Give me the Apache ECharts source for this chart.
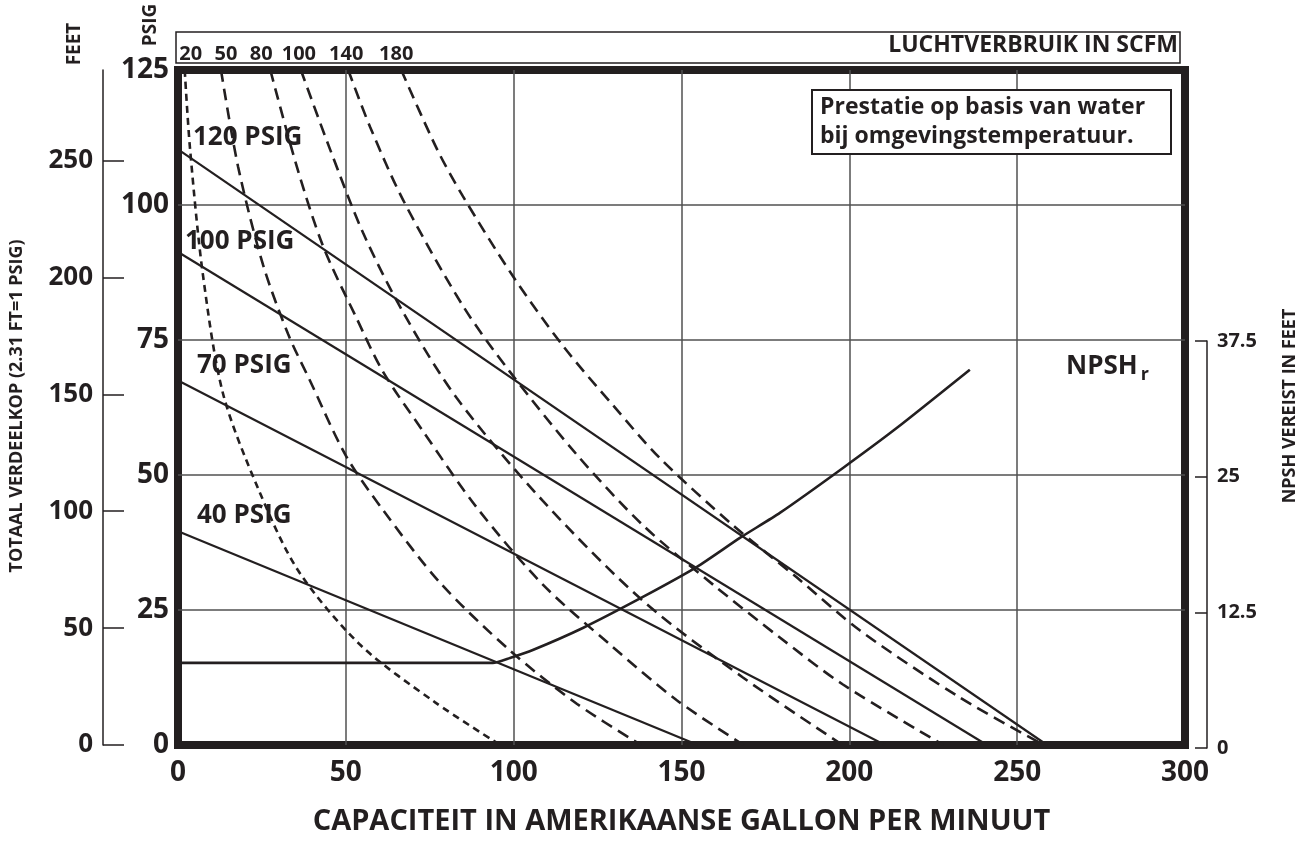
<!DOCTYPE html>
<html>
<head>
<meta charset="utf-8">
<title>Pompprestatie</title>
<script src="https://cdn.jsdelivr.net/npm/echarts@6/dist/echarts.min.js"></script>
<style>
html, body { margin: 0; padding: 0; background: #fff; }
#main { width: 1309px; height: 841px; }
</style>
</head>
<body>
<div id="main"></div>
<script>
// axis ranges: [min, max, interval]
var capAxis = [0, 300, 50];       // US gpm
var psigAxis = [0, 125, 25];      // discharge head, psig
var feetAxis = [0, 288.75, 50];   // same head in feet (2.31 ft = 1 psig)
var npshAxis = [0, 37.5, 12.5];   // NPSH required, feet

// discharge pressure lines [gpm, psig]
var psig120 = [[0, 110.3], [258.9, 0]];
var psig100 = [[0, 91.3], [241.0, 0]];
var psig70 = [[0, 67.5], [210.6, 0]];
var psig40 = [[0, 39.6], [154.9, 0]];

// air consumption curves, SCFM [gpm, psig]
var scfm20 = [[2.0, 125], [3.6, 110.3], [7.4, 87.2], [13.4, 65.1], [23.8, 47.6], [35.7, 32.4],
  [54.2, 18.6], [76.6, 7.9], [96.0, 0]];
var scfm50 = [[12.8, 125], [17.9, 107.1], [25.3, 89.0], [32.8, 76.1], [39.3, 67.5], [50.0, 53.6],
  [61.1, 43.5], [78.0, 30.1], [98.9, 17.5], [118.9, 7.6], [138.0, 0]];
var scfm80 = [[27.5, 125], [35.4, 107.1], [43.2, 92.4], [53.3, 78.9], [61.1, 69.1], [73.0, 58.1],
  [89.1, 43.9], [108.7, 29.7], [128.7, 18.6], [148.6, 8.3], [168.5, 0]];
var scfm100 = [[36.6, 125], [45.3, 110.3], [55.1, 94.9], [67.0, 80.2], [83.1, 64.2], [108.7, 45.2],
  [138.5, 26.7], [168.3, 12.5], [198.0, 0]];
var scfm140 = [[50.7, 125], [57.2, 114.5], [67.0, 101.0], [84.9, 81.3], [98.9, 69.1], [118.9, 53.7],
  [138.5, 40.7], [159.4, 29.7], [179.3, 19.9], [198.1, 11.2], [228.0, 0]];
var scfm180 = [[66.5, 125], [77.2, 110.3], [84.9, 101.6], [99.8, 86.8], [114.7, 73.9], [129.6, 62.9],
  [143.6, 53.1], [165.3, 40.7], [184.4, 31.0], [203.2, 21.2], [232.9, 8.8], [258.0, 0]];

// NPSH required [gpm, feet]
var npshr = [[0, 7.84], [93.8, 7.84], [98.9, 8.3], [105.7, 9.03], [120.6, 11.06], [138.5, 13.92],
  [154.6, 16.69], [167.4, 19.36], [179.3, 21.66], [198.1, 25.8], [214.2, 29.5], [235.9, 34.85]];

var ink = '#231f20';
var grey = '#505050';
var ff = 'Open Sans';

var chart = echarts.init(document.getElementById('main'), null, { renderer: 'canvas' });

function pressureLine(name, data, off) {
  return {
    name: name, type: 'line', xAxisIndex: 0, yAxisIndex: 0,
    symbol: 'circle', symbolSize: 0, showSymbol: true, silent: true, z: 3,
    lineStyle: { color: ink, width: 2.2 },
    data: data.map(function (p, i) {
      if (i > 0) return p;
      return {
        value: p,
        label: {
          show: true, position: 'right', offset: off, formatter: name,
          fontFamily: ff, fontSize: 26, fontWeight: 'bold', color: ink
        }
      };
    })
  };
}

function airCurve(name, data, dash, dx) {
  return {
    name: name, type: 'line', xAxisIndex: 0, yAxisIndex: 0,
    smooth: 0.3,
    symbol: 'circle', symbolSize: 0, showSymbol: true, silent: true, z: 2,
    lineStyle: { color: ink, width: 2.6, type: dash },
    data: data.map(function (p, i) {
      if (i > 0) return p;
      return {
        value: p,
        label: {
          show: true, position: 'top', distance: 6, offset: [dx, 0], formatter: name,
          fontFamily: ff, fontSize: 20, fontWeight: 'bold', color: ink
        }
      };
    })
  };
}

var option = {
  backgroundColor: '#ffffff',
  animation: false,
  textStyle: { fontFamily: ff },
  title: [{
    text: 'LUCHTVERBRUIK IN SCFM',
    right: 131, top: 34, padding: 0,
    textStyle: { fontFamily: ff, fontSize: 23, fontWeight: 'bold', color: ink }
  }, {
    text: 'Prestatie op basis van water\nbij omgevingstemperatuur.',
    left: 812, top: 90, padding: [3, 26, 3, 8],
    borderColor: ink, borderWidth: 2, backgroundColor: '#fff',
    textStyle: { fontFamily: ff, fontSize: 23, fontWeight: 'bold', color: ink, lineHeight: 29 }
  }, {
    text: '{a|NPSH}{b|r}',
    left: 1066, top: 350, padding: 0,
    textStyle: {
      rich: {
        a: { fontFamily: ff, fontSize: 26, fontWeight: 'bold', color: ink },
        b: { fontFamily: ff, fontSize: 18, fontWeight: 'bold', color: ink, padding: [16, 0, 0, 3] }
      }
    }
  }],
  grid: [
    { left: 178, right: 124, top: 70, bottom: 93, show: true, borderColor: ink, borderWidth: 8 },
    { left: 178, right: 124, top: 341, bottom: 93, show: false }
  ],
  xAxis: [{
    gridIndex: 0, type: 'value', min: capAxis[0], max: capAxis[1], interval: capAxis[2],
    axisLine: { show: false }, axisTick: { show: false },
    axisLabel: { fontFamily: ff, fontSize: 28, fontWeight: 'bold', color: ink, margin: 14 },
    splitLine: { show: true, showMinLine: false, showMaxLine: false, lineStyle: { color: grey, width: 1.5 } },
    name: 'CAPACITEIT IN AMERIKAANSE GALLON PER MINUUT',
    nameLocation: 'middle', nameGap: 62,
    nameTextStyle: { fontFamily: ff, fontSize: 29, fontWeight: 'bold', color: ink }
  }, {
    gridIndex: 1, type: 'value', min: capAxis[0], max: capAxis[1], show: false
  }],
  yAxis: [{
    gridIndex: 0, type: 'value', min: psigAxis[0], max: psigAxis[1], interval: psigAxis[2],
    axisLine: { show: false, onZero: false }, axisTick: { show: false },
    axisLabel: { fontFamily: ff, fontSize: 28, fontWeight: 'bold', color: ink, margin: 9 },
    splitLine: { show: true, showMinLine: false, showMaxLine: false, lineStyle: { color: grey, width: 1.5 } }
  }, {
    gridIndex: 0, type: 'value', position: 'left', offset: 75,
    min: feetAxis[0], max: feetAxis[1], interval: feetAxis[2],
    axisLine: { show: true, onZero: false, lineStyle: { color: ink, width: 1.5 } },
    axisTick: { show: true, inside: true, length: 21, lineStyle: { color: ink, width: 1.5 } },
    axisLabel: { fontFamily: ff, fontSize: 26, fontWeight: 'bold', color: ink, margin: 10, showMaxLabel: false },
    splitLine: { show: false }
  }, {
    gridIndex: 1, type: 'value', position: 'right', offset: 22,
    min: npshAxis[0], max: npshAxis[1], interval: npshAxis[2],
    axisLine: { show: true, onZero: false, lineStyle: { color: ink, width: 1.5 } },
    axisTick: { show: true, inside: true, length: 12, lineStyle: { color: ink, width: 1.5 } },
    axisLabel: { fontFamily: ff, fontSize: 20, fontWeight: 'bold', color: ink, margin: 10 },
    splitLine: { show: false }
  }],
  graphic: [{
    type: 'rect', z: -1,
    shape: { x: 176, y: 32, width: 1004, height: 31 },
    style: { fill: '#fff', stroke: ink, lineWidth: 1.5 }
  }, {
    type: 'text', x: 75, y: 44, rotation: Math.PI / 2,
    style: { text: 'FEET', fill: ink, font: 'bold 19px "Open Sans"', align: 'center', verticalAlign: 'middle', textAlign: 'center', textVerticalAlign: 'middle' }
  }, {
    type: 'text', x: 151, y: 25, rotation: Math.PI / 2,
    style: { text: 'PSIG', fill: ink, font: 'bold 19px "Open Sans"', align: 'center', verticalAlign: 'middle', textAlign: 'center', textVerticalAlign: 'middle' }
  }, {
    type: 'text', x: 17, y: 406, rotation: Math.PI / 2,
    style: { text: 'TOTAAL VERDEELKOP (2.31 FT=1 PSIG)', fill: ink, font: 'bold 18px "Open Sans"', align: 'center', verticalAlign: 'middle', textAlign: 'center', textVerticalAlign: 'middle' }
  }, {
    type: 'text', x: 1290, y: 406, rotation: Math.PI / 2,
    style: { text: 'NPSH VEREIST IN FEET', fill: ink, font: 'bold 18px "Open Sans"', align: 'center', verticalAlign: 'middle', textAlign: 'center', textVerticalAlign: 'middle' }
  }],
  series: [
    pressureLine('120 PSIG', psig120, [10, -12]),
    pressureLine('100 PSIG', psig100, [2, -10]),
    pressureLine('70 PSIG', psig70, [14, -15]),
    pressureLine('40 PSIG', psig40, [14, -16]),
    airCurve('20', scfm20, [7, 5], 6),
    airCurve('50', scfm50, [12, 7], 5),
    airCurve('80', scfm80, [12, 7], -9),
    airCurve('100', scfm100, [12, 7], -2),
    airCurve('140', scfm140, [12, 7], -2),
    airCurve('180', scfm180, [12, 7], -5),
    {
      name: 'NPSHr', type: 'line', xAxisIndex: 1, yAxisIndex: 2,
      smooth: 0.2,
      showSymbol: false, silent: true, z: 3,
      lineStyle: { color: ink, width: 2.6 },
      data: npshr
    }
  ]
};

chart.setOption(option);
</script>
</body>
</html>
